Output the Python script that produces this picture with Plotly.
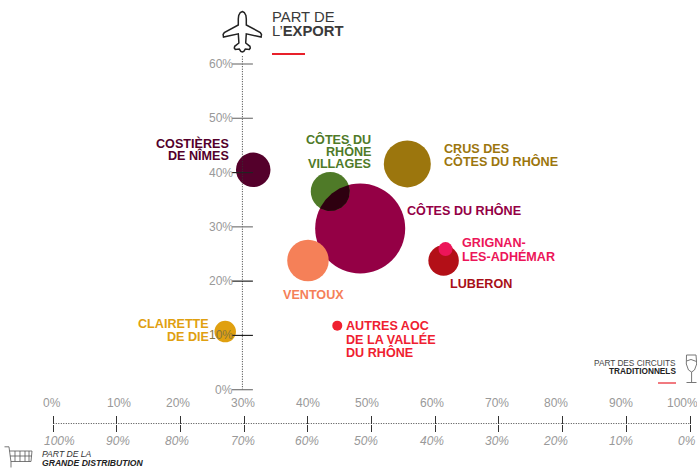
import math
import plotly.graph_objects as go

W, H = 697, 468

# ---- data (percent) ----
names = ["Côtes du Rhône", "Côtes du Rhône Villages", "Costières de Nîmes", "Crus des Côtes du Rhône",
         "Ventoux", "Luberon", "Grignan-les-Adhémar", "Clairette de Die", "Autres AOC de la Vallée du Rhône"]
part_circuits_traditionnels = [48.2, 43.5, 31.4, 55.6, 40.0, 61.3, 61.6, 27.0, 44.6]
part_export = [29.7, 36.5, 40.5, 41.6, 23.8, 23.8, 25.9, 10.7, 11.8]
bubble_volume = [90, 39, 34.5, 47, 41.5, 30.5, 14, 21.5, 10]
bubble_colors = ["#940045", "#4f7a28", "#54002b", "#9c760d", "#f58058", "#b30f17", "#ec1559", "#e0a010", "#ef2030"]

x_ticks = [0, 10, 20, 30, 40, 50, 60, 70, 80, 90, 100]
x_top_labels = ["0%", "10%", "20%", "30%", "40%", "50%", "60%", "70%", "80%", "90%", "100%"]
x_bottom_labels = ["100%", "90%", "80%", "70%", "60%", "50%", "40%", "30%", "20%", "10%", "0%"]
y_ticks = [0, 10, 20, 30, 40, 50, 60]
y_labels = ["0%", "10%", "20%", "30%", "40%", "50%", "60%"]
y_tick_colors = ["#777777", "#222222", "#222222", "#777777", "#222222", "#777777", "#777777"]
y_label_colors = ["#999999", "#85763f", "#999999", "#999999", "#999999", "#999999", "#999999"]
# the source's labels are not quite centred on their ticks (page pixels)
x_top_label_px = [51.7, 119.3, 177.7, 242.7, 308, 366.7, 431.7, 497, 556, 621, 682]
x_bottom_label_px = [59, 118.3, 177.3, 242.7, 307.3, 366.3, 431.7, 496.7, 555.7, 621, 686.7]

# ---- scales ----
X0, X100 = 53.3, 690.0      # pixel of 0 % and 100 % on x
Y0, Y60 = 389.7, 64.0       # pixel of 0 % and 60 % on y
sx = (X100 - X0) / 100
sy = (Y0 - Y60) / 60
x_range = [(0 - X0) / sx, (W - X0) / sx]
y_range = [(Y0 - H) / sy, (Y0 - 0) / sy]
AXIS_X = 29.7   # the vertical axis sits here on x
AXIS_Y = -6.23  # the horizontal axis sits here on y
AXIS_TOP = 61.5


def px(x):
    return x / W


def py(y):
    return 1 - y / H


fig = go.Figure()

# bubbles
fig.add_trace(go.Scatter(
    x=part_circuits_traditionnels, y=part_export, mode="markers", text=names, hoverinfo="text",
    marker=dict(size=bubble_volume, sizemode="diameter", sizeref=1, color=bubble_colors, line=dict(width=0), opacity=1),
    showlegend=False))


# dark overlap of the two crossing bubbles, computed from the bubble data
def lens(i, j, n=40):
    x1, y1 = part_circuits_traditionnels[i] * sx, part_export[i] * sy
    x2, y2 = part_circuits_traditionnels[j] * sx, part_export[j] * sy
    r1, r2 = bubble_volume[i] / 2, bubble_volume[j] / 2
    d = math.hypot(x2 - x1, y2 - y1)
    base = math.atan2(y2 - y1, x2 - x1)
    a1 = math.acos((d * d + r1 * r1 - r2 * r2) / (2 * d * r1))
    a2 = math.acos((d * d + r2 * r2 - r1 * r1) / (2 * d * r2))
    pts = []
    for k in range(n + 1):
        t = base - a1 + 2 * a1 * k / n
        pts.append((x1 + r1 * math.cos(t), y1 + r1 * math.sin(t)))
    for k in range(n + 1):
        t = base + math.pi - a2 + 2 * a2 * k / n
        pts.append((x2 + r2 * math.cos(t), y2 + r2 * math.sin(t)))
    pts.append(pts[0])
    return [p[0] / sx for p in pts], [p[1] / sy for p in pts]


lx, ly = lens(0, 1)
fig.add_trace(go.Scatter(x=lx, y=ly, mode="lines", fill="toself", fillcolor="#2e0010",
                         line=dict(width=0, color="#2e0010"), hoverinfo="skip", showlegend=False))

# vertical dotted axis + its crossing ticks
fig.add_trace(go.Scatter(x=[AXIS_X, AXIS_X], y=[0, AXIS_TOP], mode="lines",
                         line=dict(color="#333333", width=1, dash="1px,1.5px"), hoverinfo="skip", showlegend=False))
fig.add_trace(go.Scatter(x=[AXIS_X] * len(y_ticks), y=y_ticks, mode="markers", hoverinfo="skip", showlegend=False,
                         marker=dict(symbol="line-ew", size=15, line=dict(width=1.2, color=y_tick_colors))))

# horizontal dotted axis (carried by the second x axis so that it is drawn)
fig.add_trace(go.Scatter(x=[0, 100], y=[AXIS_Y, AXIS_Y], xaxis="x2", yaxis="y", mode="lines",
                         line=dict(color="#444444", width=1, dash="1px,1.5px"), hoverinfo="skip", showlegend=False))


# ---- texts ----
def label(lines, x, ys, color, anchor="left", size=12.6, bold=True, italic=False):
    for t, y in zip(lines, ys):
        s = t
        if bold:
            s = "<b>" + s + "</b>"
        if italic:
            s = "<i>" + s + "</i>"
        fig.add_annotation(text=s, xref="paper", yref="paper", x=px(x), y=py(y), xanchor=anchor, yanchor="middle",
                           showarrow=False, align=anchor, font=dict(size=size, color=color), borderpad=0, borderwidth=0)


label(["COSTIÈRES", "DE NÎMES"], 229, [143.7, 155.5], "#54002b", "right")
label(["CÔTES DU", "RHÔNE", "VILLAGES"], 371, [139.3, 151.5, 164.3], "#4f7a28", "right")
label(["CRUS DES", "CÔTES DU RHÔNE"], 444, [149.3, 161.5], "#9c760d")
label(["CÔTES DU RHÔNE"], 407, [210.3], "#940045")
label(["GRIGNAN-", "LES-ADHÉMAR"], 461.7, [243.3, 256.7], "#ec1559")
label(["LUBERON"], 450.3, [283.7], "#a80f18")
label(["VENTOUX"], 283, [294.7], "#f58058")
label(["CLAIRETTE", "DE DIE"], 209, [324.3, 337.2], "#e0a010", "right")
label(["AUTRES AOC", "DE LA VALLÉE", "DU RHÔNE"], 346, [326.3, 339.3, 352.3], "#ef2030")

label(["PART DE"], 272, [17], "#3a3a3a", size=14.8, bold=False)
label(["L’<b>EXPORT</b>"], 272, [31], "#3a3a3a", size=14.8, bold=False)
label(["PART DES CIRCUITS"], 676, [363], "#444444", "right", size=8.25, bold=False)
label(["TRADITIONNELS"], 676, [371], "#222222", "right", size=8.25)
label(["PART DE LA"], 41.5, [454.3], "#333333", size=8.6, bold=False, italic=True)
label(["GRANDE DISTRIBUTION"], 41.5, [463.3], "#222222", size=8.6, italic=True)

for t, xp in zip(x_top_labels, x_top_label_px):
    fig.add_annotation(text=t, xref="paper", yref="paper", x=px(xp), y=py(402.7), xanchor="center", yanchor="middle",
                       showarrow=False, font=dict(size=12, color="#999999"))
for t, xp in zip(x_bottom_labels, x_bottom_label_px):
    fig.add_annotation(text="<i>" + t + "</i>", xref="paper", yref="paper", x=px(xp), y=py(441), xanchor="center",
                       yanchor="middle", showarrow=False, font=dict(size=12, color="#999999"))
for t, v, col in zip(y_labels, y_ticks, y_label_colors):
    fig.add_annotation(text=t, xref="paper", yref="y", x=px(234.5), y=v, xanchor="right", yanchor="middle",
                       showarrow=False, font=dict(size=12, color=col))


# ---- decorations (pixel positions on the page) ----
def shape_path(points, color, width, close=False):
    d = "M " + " L ".join(f"{px(a):.5f},{py(b):.5f}" for a, b in points) + (" Z" if close else "")
    fig.add_shape(type="path", xref="paper", yref="paper", path=d, line=dict(color=color, width=width), layer="above")


shape_path([(272, 54), (305, 54)], "#e8202a", 2)
shape_path([(658, 383), (676, 383)], "#e8202a", 1.2)

# plane
c = 242.3
half = [(0, 11.5), (2, 12.5), (3.6, 15.5), (4, 19), (4, 25), (18, 32.5), (19.2, 34.5), (18.8, 37), (4, 33.8), (3.4, 43),
        (7.6, 46.3), (8, 48), (7, 49.5), (3, 49), (1.5, 51.5), (0, 52)]
plane = [(c + a, b) for a, b in half] + [(c - a, b) for a, b in reversed(half[:-1])]
shape_path(plane, "#222222", 1.5, close=True)

# cart
cart = "#555555"
shape_path([(4.5, 446.8), (9, 446.8), (11, 462), (11, 467.5)], cart, 0.8)
shape_path([(9.5, 451), (32, 451), (31, 461.5), (11, 461.5)], cart, 0.8)
shape_path([(10, 456), (31.5, 456)], cart, 0.8)
for a in (15, 20, 25, 29):
    shape_path([(a, 451), (a, 461.5)], cart, 0.8)

# glass
g = "#777777"
shape_path([(686.5, 355), (696, 355), (696.7, 364), (694.5, 370), (691.6, 372), (688.5, 370), (686.3, 364), (686.5, 355)], g, 1)
shape_path([(686.5, 361), (691, 359.5), (696.5, 361.5)], g, 1)
shape_path([(691.6, 372), (691.6, 382.5)], g, 1)
shape_path([(686.5, 382.5), (696.5, 382.5)], g, 1)

# ---- layout ----
axis_pos = py(423.5)
fig.update_layout(
    width=W, height=H, autosize=False, margin=dict(l=0, r=0, t=0, b=0), showlegend=False,
    paper_bgcolor="white", plot_bgcolor="white",
    font=dict(family="Liberation Sans, Arial, sans-serif"),
    xaxis=dict(range=x_range, domain=[0, 1], anchor="free", position=axis_pos, side="bottom", showgrid=False, zeroline=False,
               showline=False, tickmode="array", tickvals=x_ticks, showticklabels=False, ticks="outside", ticklen=7,
               tickwidth=1, tickcolor="#333333"),
    xaxis2=dict(range=x_range, domain=[0, 1], anchor="free", position=axis_pos, side="top", overlaying="x", showgrid=False,
                zeroline=False, showline=False, tickmode="array", tickvals=x_ticks, showticklabels=False, ticks="outside",
                ticklen=8, tickwidth=1, tickcolor="#333333"),
    yaxis=dict(range=y_range, domain=[0, 1], visible=False),
)

fig.write_html("out.html", post_script="document.body.style.margin='0';window.dispatchEvent(new Event('resize'));",
               config={"displayModeBar": False})
